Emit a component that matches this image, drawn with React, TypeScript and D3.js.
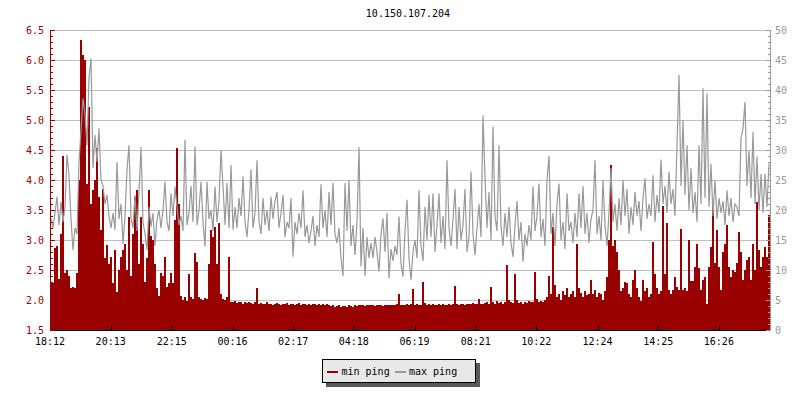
import React from 'react';
import * as d3 from 'd3';

const TITLE = '10.150.107.204';
const START_LABEL = '18:12';
const SPAN_MINUTES = 1436;
const TIME_LABELS = ['18:12', '20:13', '22:15', '00:16', '02:17', '04:18', '06:19', '08:21', '10:22', '12:24', '14:25', '16:26'];
const LEFT_TICKS = [1.5, 2.0, 2.5, 3.0, 3.5, 4.0, 4.5, 5.0, 5.5, 6.0, 6.5];
const RIGHT_TICKS = [0, 5, 10, 15, 20, 25, 30, 35, 40, 45, 50];
const SERIES_NAMES = ['min ping', 'max ping'];

// min ping (left axis), one value per ~4 minutes
const MIN_PING = [
  2.30, 2.28, 2.86, 2.90, 2.35, 3.10, 4.40, 2.45, 2.50, 2.40,
  2.20, 2.22, 2.20, 2.45, 4.00, 6.33, 6.08, 6.00, 3.94, 5.22,
  3.60, 3.83, 4.00, 4.53, 3.72, 3.17, 3.85, 2.70, 2.92, 2.60,
  2.72, 2.28, 2.83, 2.14, 2.50, 2.72, 2.83, 2.94, 2.50, 3.39,
  2.40, 3.10, 3.72, 3.83, 2.60, 3.39, 2.94, 2.30, 2.70, 3.83,
  3.06, 3.00, 2.60, 2.20, 2.06, 2.45, 2.40, 2.72, 2.22, 2.28,
  2.45, 2.28, 3.33, 4.53, 3.60, 2.06, 2.00, 2.05, 1.98, 2.44,
  2.05, 2.02, 2.78, 2.63, 2.05, 2.02, 2.00, 2.04, 2.02, 2.60,
  3.17, 3.05, 3.22, 2.60, 3.28, 2.10, 2.02, 2.00, 2.05, 2.72,
  1.97, 1.96, 1.98, 1.95, 1.97, 1.96, 1.94, 1.97, 1.95, 1.96,
  1.95, 1.93, 1.96, 2.20, 1.94, 1.95, 1.93, 1.94, 1.96, 1.93,
  1.94, 1.92, 1.93, 1.95, 1.93, 1.92, 1.94, 1.93, 1.95, 1.92,
  1.93, 1.94, 1.92, 1.93, 1.95, 1.92, 1.93, 1.94, 1.92, 1.93,
  1.92, 1.94, 1.93, 1.92, 1.93, 1.91, 1.93, 1.92, 1.94, 1.92,
  1.90, 1.91, 1.89, 1.90, 1.91, 1.89, 1.90, 1.90, 1.89, 1.91,
  1.90, 1.89, 1.91, 1.90, 1.92, 1.91, 1.92, 1.90, 1.91, 1.92,
  1.91, 1.92, 1.90, 1.91, 1.92, 1.91, 1.90, 1.92, 1.91, 1.92,
  1.91, 1.92, 1.91, 1.93, 2.10, 1.92, 1.91, 1.92, 1.93, 1.92,
  1.93, 2.18, 1.92, 1.93, 1.91, 1.92, 2.30, 1.95, 1.92, 1.93,
  1.92, 1.93, 1.91, 1.92, 1.94, 1.92, 1.93, 1.92, 1.91, 1.93,
  1.92, 1.93, 2.24, 1.93, 1.92, 1.94, 1.93, 1.92, 1.94, 1.93,
  1.93, 1.95, 1.94, 1.93, 2.02, 1.94, 1.93, 1.95, 1.97, 1.94,
  2.22, 1.96, 1.94, 1.98, 1.95, 1.97, 1.94, 1.96, 2.58, 2.00,
  1.96, 1.95, 2.44, 2.00, 1.95, 1.97, 1.94, 1.96, 1.95, 1.98,
  1.96, 1.97, 2.46, 2.02, 1.97, 1.99, 1.96, 2.00, 2.05, 2.40,
  2.10, 3.22, 2.25, 2.05, 2.10, 2.00, 2.15, 2.08, 2.20, 2.05,
  2.10, 2.15, 2.05, 2.94, 2.20, 2.12, 2.05, 2.15, 2.08, 2.10,
  2.33, 2.10, 2.17, 2.05, 2.12, 2.10, 2.00, 2.15, 2.39, 3.00,
  4.25, 2.90, 3.00, 2.80, 2.50, 2.15, 2.20, 2.30, 2.28, 2.10,
  2.05, 2.33, 2.50, 2.20, 2.05, 1.98, 2.33, 2.15, 2.20, 2.05,
  2.10, 2.97, 2.44, 2.20, 2.10, 2.15, 3.56, 2.44, 3.28, 2.17,
  2.10, 2.17, 2.39, 2.22, 2.17, 3.19, 2.17, 2.20, 2.15, 3.00,
  2.31, 2.31, 2.55, 2.94, 2.53, 2.17, 2.33, 2.39, 1.94, 2.55,
  2.89, 3.56, 2.61, 3.17, 2.55, 2.17, 2.80, 2.94, 3.25, 2.55,
  2.39, 2.50, 2.47, 2.61, 3.14, 2.80, 2.33, 2.50, 2.66, 2.72,
  2.33, 2.94, 2.50, 3.64, 2.83, 2.55, 2.72, 2.89, 2.72, 3.42,
];

// max ping (right axis)
const MAX_PING = [
  18.5, 17.0, 19.5, 22.2, 17.5, 21.4, 18.0, 20.5, 29.2, 25.8,
  18.5, 13.3, 17.0, 16.0, 28.0, 33.3, 38.6, 36.0, 30.8, 42.0,
  45.3, 27.0, 32.5, 28.0, 33.6, 25.0, 24.0, 21.0, 22.5, 19.0,
  17.0, 19.5, 16.7, 28.0, 18.5, 21.0, 14.4, 19.0, 26.7, 30.8,
  18.5, 17.0, 22.5, 16.5, 23.0, 30.5, 18.0, 16.0, 13.3, 20.5,
  17.2, 19.5, 14.0, 18.5, 20.0, 17.0, 20.0, 24.7, 18.0, 16.5,
  22.8, 19.0, 23.9, 20.5, 17.5, 19.0, 16.5, 31.7, 17.5, 19.5,
  24.0, 18.0, 30.6, 17.5, 20.0, 24.7, 18.0, 13.9, 24.7, 18.5,
  20.0, 16.5, 23.9, 18.0, 21.5, 30.0, 24.0, 17.5, 24.5, 17.0,
  27.5, 16.7, 20.5, 17.0, 22.0, 19.0, 25.6, 18.0, 15.5, 20.0,
  26.8, 17.0, 19.5, 28.3, 18.0, 16.0, 22.0, 17.5, 20.0, 16.5,
  22.2, 18.5, 21.5, 23.0, 17.0, 19.5, 22.5, 15.5, 18.0, 17.0,
  22.0, 12.2, 18.0, 16.0, 19.5, 17.0, 23.3, 15.5, 17.5, 14.5,
  16.5, 19.0, 14.0, 17.5, 15.5, 24.3, 17.0, 20.0, 15.5, 23.0,
  17.5, 24.5, 16.0, 14.5, 17.0, 12.0, 9.0, 24.5, 16.5, 25.0,
  14.0, 17.5, 12.5, 18.0, 30.5, 10.6, 17.0, 9.0, 15.5, 12.0,
  14.5, 12.0, 15.5, 13.0, 9.7, 16.0, 18.6, 13.0, 19.5, 8.6,
  13.5, 11.5, 14.0, 12.5, 18.9, 11.0, 8.9, 16.5, 21.7, 12.0,
  8.3, 13.0, 15.0, 12.0, 23.3, 14.0, 11.5, 20.5, 15.0, 22.5,
  15.5, 22.8, 13.0, 17.5, 22.8, 14.5, 19.0, 13.5, 28.3, 17.0,
  14.0, 18.5, 23.5, 13.5, 20.5, 15.0, 17.5, 23.5, 13.0, 15.5,
  26.4, 16.0, 12.5, 17.0, 21.0, 15.5, 35.8, 25.5, 17.0, 23.0,
  15.0, 33.9, 19.0, 16.5, 30.8, 17.5, 14.0, 19.5, 15.5, 20.5,
  14.5, 12.2, 17.5, 21.5, 15.0, 18.0, 11.4, 16.0, 14.0, 17.5,
  15.0, 23.9, 16.5, 19.0, 24.4, 15.5, 18.5, 14.0, 25.0, 29.0,
  16.0, 19.5, 14.0, 21.0, 24.4, 15.0, 18.0, 13.5, 22.8, 16.5,
  18.0, 14.5, 19.5, 15.5, 22.8, 17.0, 24.0, 16.0, 19.5, 14.5,
  18.5, 20.0, 28.3, 16.0, 19.0, 15.0, 25.0, 17.5, 14.0, 19.5,
  27.0, 18.0, 21.0, 16.5, 22.0, 17.5, 25.0, 19.0, 23.5, 16.0,
  20.5, 17.5, 23.0, 19.0, 21.5, 16.5, 22.0, 25.3, 18.5, 21.0,
  19.0, 25.8, 18.0, 22.5, 19.5, 28.4, 21.0, 24.0, 19.5, 26.4,
  21.0, 23.5, 19.0, 30.8, 42.5, 24.0, 35.0, 22.5, 30.8, 20.0,
  27.0, 19.5, 23.0, 18.0, 30.8, 21.0, 40.3, 22.0, 39.4, 20.5,
  27.7, 19.0, 25.0, 18.5, 22.0, 19.5, 21.5, 17.5, 23.3, 19.0,
  22.0, 18.0, 21.0, 20.5, 19.0, 32.0, 33.6, 38.0, 24.0, 30.0,
  22.0, 33.0, 21.0, 28.9, 20.0, 26.0, 19.5, 26.0, 20.5, 27.8,
];

const RED = '#990000';
const GRAY = '#999999';
const FONT = '"DejaVu Sans Mono", monospace';

function minutesFromStart(label: string): number {
  const [h, m] = label.split(':').map(Number);
  const [h0, m0] = START_LABEL.split(':').map(Number);
  let d = h * 60 + m - (h0 * 60 + m0);
  if (d < 0) d += 1440;
  return d;
}

export default function App() {
  const W = 800;
  const H = 400;
  const left = 50;
  const right = 770;
  const top = 30;
  const bottom = 330;

  const x = d3.scaleLinear().domain([0, SPAN_MINUTES]).range([left, right]);
  const yL = d3.scaleLinear().domain([1.5, 6.5]).range([bottom, top]);
  const yR = d3.scaleLinear().domain([0, 50]).range([bottom, top]);

  const n = MIN_PING.length;
  const step = SPAN_MINUTES / n;
  const minPts = MIN_PING.map((v, i) => ({ t: i * step, v }));
  minPts.push({ t: SPAN_MINUTES, v: MIN_PING[n - 1] });

  const area = d3
    .area<{ t: number; v: number }>()
    .x((d) => x(d.t))
    .y0(bottom)
    .y1((d) => yL(d.v))
    .curve(d3.curveStepAfter);

  const line = d3
    .line<number>()
    .x((_, i) => x((i + 0.5) * step))
    .y((d) => yR(d))
    .curve(d3.curveLinear);

  const leftMinor = d3.range(15, 66).map((k) => k / 10);
  const rightMinor = d3.range(0, 51);

  const crisp = (v: number) => Math.round(v) + 0.5;

  return (
    <svg
      width={W}
      height={H}
      style={{ position: 'absolute', left: 0, top: 0, background: '#fff' }}
      fontFamily={FONT}
      fontSize={10}
    >
      <rect x={0} y={0} width={W} height={H} fill="#ffffff" />
      <text x={408} y={17} textAnchor="middle" fill="#000">
        {TITLE}
      </text>

      {/* grid */}
      {LEFT_TICKS.map((v) => (
        <line
          key={'g' + v}
          x1={left}
          x2={right}
          y1={crisp(yL(v))}
          y2={crisp(yL(v))}
          stroke="#c0c0c0"
          strokeWidth={1}
          shapeRendering="crispEdges"
        />
      ))}

      {/* min ping area */}
      <path d={area(minPts) || ''} fill={RED} shapeRendering="crispEdges" />

      {/* max ping line */}
      <path d={line(MAX_PING) || ''} fill="none" stroke={GRAY} strokeWidth={1.2} />

      {/* bottom axis */}
      <line x1={left} x2={right + 1} y1={bottom + 0.5} y2={bottom + 0.5} stroke="#000" shapeRendering="crispEdges" />
      {TIME_LABELS.map((lab) => {
        const px = x(minutesFromStart(lab));
        return (
          <g key={'x' + lab}>
            <line x1={crisp(px)} x2={crisp(px)} y1={bottom - 5} y2={bottom} stroke="#000" shapeRendering="crispEdges" />
            <text x={px} y={345} textAnchor="middle" fill="#000">
              {lab}
            </text>
          </g>
        );
      })}

      {/* left axis */}
      <line x1={left + 0.5} x2={left + 0.5} y1={top} y2={bottom + 1} stroke={RED} shapeRendering="crispEdges" />
      {leftMinor.map((v) => (
        <line
          key={'lm' + v}
          x1={left}
          x2={left + 3}
          y1={crisp(yL(v))}
          y2={crisp(yL(v))}
          stroke={RED}
          shapeRendering="crispEdges"
        />
      ))}
      {LEFT_TICKS.map((v) => (
        <g key={'l' + v}>
          <line x1={left} x2={left + 5} y1={crisp(yL(v))} y2={crisp(yL(v))} stroke={RED} shapeRendering="crispEdges" />
          <text x={44} y={yL(v) + 4} textAnchor="end" fill={RED}>
            {v.toFixed(1)}
          </text>
        </g>
      ))}

      {/* right axis */}
      <line x1={right + 0.5} x2={right + 0.5} y1={top} y2={bottom + 1} stroke={GRAY} shapeRendering="crispEdges" />
      {rightMinor.map((v) => (
        <line
          key={'rm' + v}
          x1={right - 2}
          x2={right + 1}
          y1={crisp(yR(v))}
          y2={crisp(yR(v))}
          stroke={GRAY}
          shapeRendering="crispEdges"
        />
      ))}
      {RIGHT_TICKS.map((v) => (
        <g key={'r' + v}>
          <line x1={right - 4} x2={right + 1} y1={crisp(yR(v))} y2={crisp(yR(v))} stroke={GRAY} shapeRendering="crispEdges" />
          <text x={775} y={yR(v) + 4} textAnchor="start" fill={GRAY}>
            {v}
          </text>
        </g>
      ))}

      {/* legend */}
      <rect x={326} y={363} width={154} height={24} fill="#5a5a5a" shapeRendering="crispEdges" />
      <rect x={322.5} y={359.5} width={153} height={23} fill="#e8e8e8" stroke="#000" strokeWidth={1} shapeRendering="crispEdges" />
      <line x1={327} x2={338} y1={372} y2={372} stroke={RED} strokeWidth={2.5} shapeRendering="crispEdges" />
      <text x={341.5} y={375} fill="#000">
        {SERIES_NAMES[0]}
      </text>
      <line x1={395} x2={406} y1={372} y2={372} stroke={GRAY} strokeWidth={2.5} shapeRendering="crispEdges" />
      <text x={409} y={375} fill="#000">
        {SERIES_NAMES[1]}
      </text>
    </svg>
  );
}
